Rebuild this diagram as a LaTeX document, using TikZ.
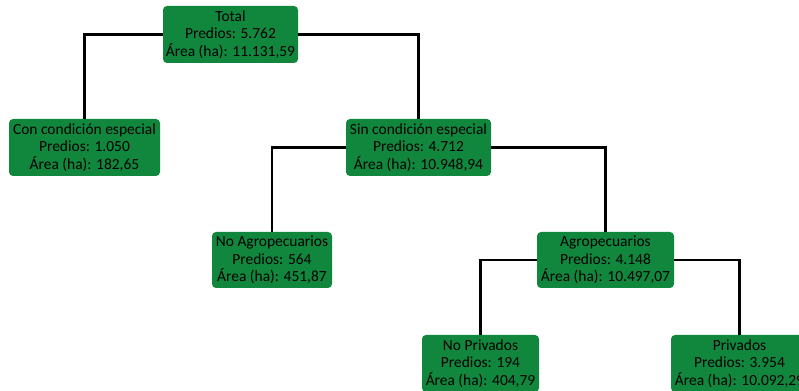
\documentclass[tikz,border=0pt]{standalone}
\usepackage{fontspec}
\setmainfont{Carlito}
\definecolor{boxgreen}{RGB}{17,135,62}
\tikzset{
  leaf/.style={draw=none, fill=boxgreen, rounded corners=3pt, align=center, inner sep=0pt,
    font=\fontsize{11.6}{13.2}\selectfont, text=black},
  link/.style={draw=black, line width=1.7pt}
}
\begin{document}
\begin{tikzpicture}[x=0.75pt,y=-0.75pt]
\useasboundingbox (0,0) rectangle (799,391);
\clip (0,0) rectangle (799,391);
\node[leaf, minimum width=135*0.75pt, minimum height=57*0.75pt] (total) at (230.5,34.5) {Total\\Predios: 5.762\\Área (ha): 11.131,59};
\node[leaf, minimum width=151*0.75pt, minimum height=57*0.75pt] (con) at (84.5,147.5) {Con condición especial\\Predios: 1.050\\Área (ha): 182,65};
\node[leaf, minimum width=145*0.75pt, minimum height=57*0.75pt] (sin) at (418.5,147.5) {Sin condición especial\\Predios: 4.712\\Área (ha): 10.948,94};
\node[leaf, minimum width=120*0.75pt, minimum height=56*0.75pt] (noagro) at (272,260) {No Agropecuarios\\Predios: 564\\Área (ha): 451,87};
\node[leaf, minimum width=137*0.75pt, minimum height=56*0.75pt] (agro) at (605.5,260) {Agropecuarios\\Predios: 4.148\\Área (ha): 10.497,07};
\node[leaf, minimum width=117*0.75pt, minimum height=57*0.75pt] (nopriv) at (480.5,363.5) {No Privados\\Predios: 194\\Área (ha): 404,79};
\node[leaf, minimum width=137*0.75pt, minimum height=57*0.75pt] (priv) at (739.5,363.5) {Privados\\Predios: 3.954\\Área (ha): 10.092,29};
\draw[link] (total.west) -| (con.north);
\draw[link] (total.east) -| (sin.north);
\draw[link] (sin.west) -| (noagro.north);
\draw[link] (sin.east) -| (agro.north);
\draw[link] (agro.west) -| (nopriv.north);
\draw[link] (agro.east) -| (priv.north);
\end{tikzpicture}
\end{document}
